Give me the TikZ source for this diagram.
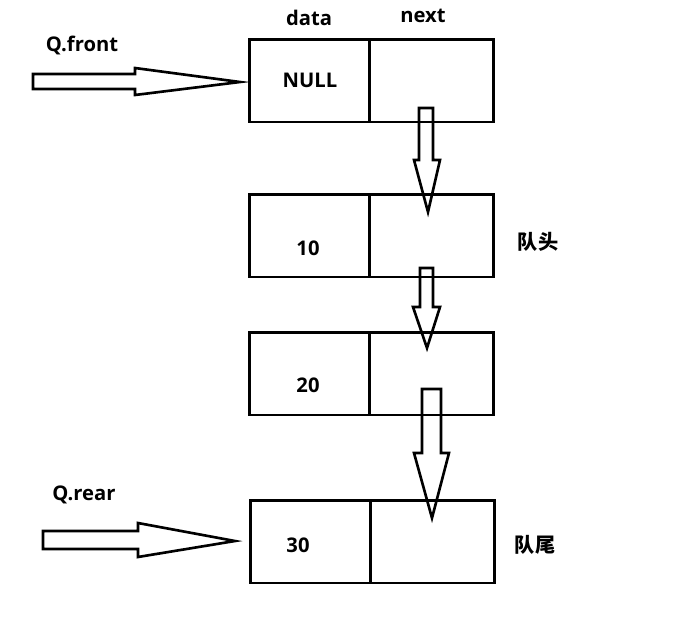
\documentclass[tikz,border=0pt]{standalone}
\usepackage{fontspec}
\setmainfont{Open Sans}
\newfontfamily\cjk{Noto Sans CJK SC}
\usetikzlibrary{positioning}

\begin{document}
\begin{tikzpicture}[x=0.02cm,y=-0.02cm,
cell/.style={draw,rectangle,line width=1.7pt,outer sep=0pt,minimum height=1.66cm},
datacell/.style={cell,minimum width=2.42cm},
nextcell/.style={cell,minimum width=2.48cm},
txt/.style={font=\fontsize{11.5}{13}\selectfont\bfseries},
cjktxt/.style={font=\cjk\fontsize{11.5}{13}\selectfont\bfseries},
hollow/.style={draw,line width=1.5pt,line join=miter}]
\useasboundingbox (0,0) rectangle (687,640);
% queue nodes
\node (d1) [datacell] at (309.5,80.5) {};
\node (n1) [nextcell,right=0pt of d1] {};
\node (d2) [datacell] at (309.5,235.5) {};
\node (n2) [nextcell,right=0pt of d2] {};
\node (d3) [datacell] at (309.5,373.5) {};
\node (n3) [nextcell,right=0pt of d3] {};
\node (d4) [datacell] at (310.5,541.5) {};
\node (n4) [nextcell,right=0pt of d4] {};
% texts
\node (hdata) [txt] at (309,18) {data};
\node (hnext) [txt] at (423,16) {next};
\node (v1) [txt] at (310,80) {NULL};
\node (v2) [txt] at (308,248) {10};
\node (v3) [txt] at (308,385) {20};
\node (v4) [txt] at (298,545) {30};
\node (qfront) [txt] at (82,45) {Q.front};
\node (qrear) [txt] at (84,495) {Q.rear};
\node (lhead) [cjktxt] at (538,242) {队头};
\node (ltail) [cjktxt] at (535,545) {队尾};
% pointer arrows
\draw[hollow] (33,74) -- (135,74) -- (135,68) -- (240,82) -- (135,95) -- (135,89) -- (33,89) -- cycle;
\draw[hollow] (43,531) -- (138,531) -- (138,523) -- (235,541) -- (138,557) -- (138,549) -- (43,549) -- cycle;
% next arrows
\draw[hollow] (419,108) -- (433,108) -- (433,160) -- (440,160) -- (428,212) -- (414,160) -- (419,160) -- cycle;
\draw[hollow] (420,268) -- (433,268) -- (433,307) -- (440,307) -- (427,348) -- (413,307) -- (420,307) -- cycle;
\draw[hollow] (422,389) -- (441,389) -- (441,453) -- (449,453) -- (432,518) -- (414,453) -- (422,453) -- cycle;
\end{tikzpicture}
\end{document}
